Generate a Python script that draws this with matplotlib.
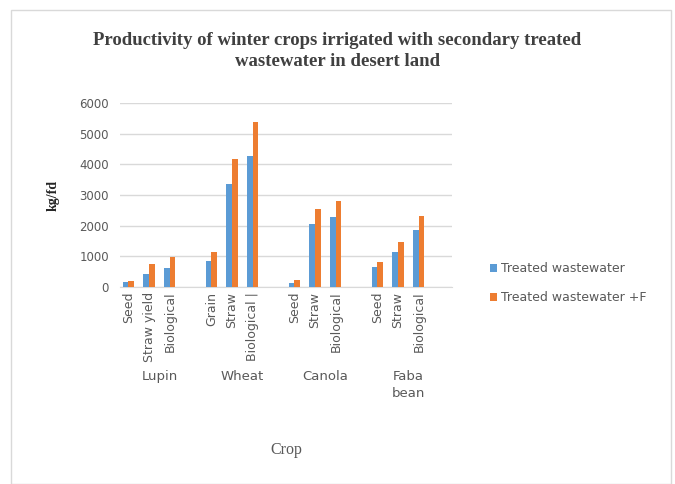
import matplotlib
matplotlib.use('Agg')
import matplotlib.pyplot as plt
from matplotlib.patches import Rectangle

# --- DATA ---
crops = ['Lupin', 'Wheat', 'Canola', 'Faba\nbean']
items = [
    ['Seed', 'Straw yield', 'Biological'],
    ['Grain', 'Straw', 'Biological |'],
    ['Seed', 'Straw', 'Biological'],
    ['Seed', 'Straw', 'Biological'],
]
treated = [150, 420, 610, 860, 3350, 4280, 140, 2060, 2280, 640, 1150, 1870]
treated_f = [190, 750, 990, 1150, 4160, 5370, 220, 2530, 2790, 820, 1460, 2330]

BLUE = '#5B9BD5'
ORANGE = '#ED7D31'
GRAY = '#595959'

# slot positions: 3 items per crop, one blank slot between crops
pos = []
for g in range(len(crops)):
    pos.extend([g * 4 + k for k in range(3)])
labels = [lab for grp in items for lab in grp]

fig = plt.figure(figsize=(6.75, 4.84), dpi=100)
ax = fig.add_axes([120 / 675, 1 - 287 / 484, 332 / 675, 184 / 484])

w = 0.27
ax.bar([p - w / 2 for p in pos], treated, width=w, color=BLUE, label='Treated wastewater', zorder=3)
ax.bar([p + w / 2 for p in pos], treated_f, width=w, color=ORANGE, label='Treated wastewater +F', zorder=3)

ax.set_xlim(-0.4, 15.6)
ax.set_ylim(0, 6000)
ax.set_yticks(range(0, 6001, 1000))
ax.yaxis.grid(True, color='#D9D9D9', linewidth=1, zorder=0)
for s in ['top', 'right', 'left']:
    ax.spines[s].set_visible(False)
ax.spines['bottom'].set_color('#D9D9D9')
ax.tick_params(axis='both', length=0, colors=GRAY, labelsize=9)
ax.tick_params(axis='y', pad=8, labelsize=8.5)
ax.set_xticks(pos)
ax.set_xticklabels(labels, rotation=90, fontsize=9, color=GRAY, va='top')

# crop group labels
for g, c in enumerate(crops):
    ax.text(g * 4 + 1.5, -2720, c, ha='center', va='top', fontsize=9.5, color=GRAY,
            linespacing=1.35)

ax.set_xlabel('Crop', fontsize=11.5, color=GRAY, family='Liberation Serif')
ax.xaxis.set_label_coords(0.5, -0.84)
ax.set_ylabel('kg/fd', fontsize=10, fontweight='bold', family='Liberation Serif', color='#262626', labelpad=14)

fig.text(0.5, 1 - 51 / 484, 'Productivity of winter crops irrigated with secondary treated\nwastewater in desert land',
         ha='center', va='center', fontsize=13.5, fontweight='bold', family='Liberation Serif', color='#404040',
         linespacing=1.25)

ax.legend(loc='center left', bbox_to_anchor=(1.08, 0.02), frameon=False, fontsize=9,
          labelcolor=GRAY, handlelength=0.6, handleheight=0.6, handletextpad=0.3, labelspacing=1.3)

fig.patches.append(Rectangle((11 / 675, 0), 660 / 675, 1 - 10 / 484, transform=fig.transFigure,
                             fill=False, edgecolor='#D9D9D9', linewidth=1))

fig.savefig('out.png', dpi=100)
